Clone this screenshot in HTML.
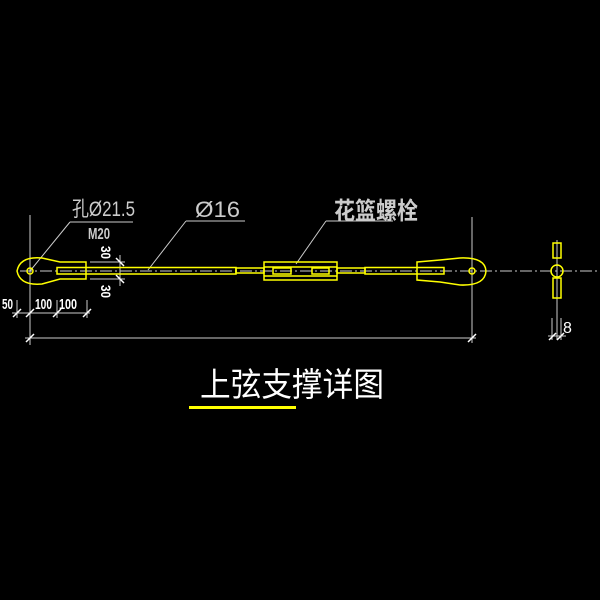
<!DOCTYPE html>
<html><head><style>body{margin:0;background:#000}svg{display:block}</style></head><body>
<svg width="600" height="600" viewBox="0 0 600 600" xmlns="http://www.w3.org/2000/svg">
<rect width="600" height="600" fill="#000"/>
<g stroke="#ccc" stroke-width="1" fill="none">
<line x1="20" y1="271" x2="600" y2="271" stroke-dasharray="12,3,2,3"/>
<line x1="30" y1="215" x2="30" y2="345"/>
<line x1="472" y1="217" x2="472" y2="343"/>
<line x1="25" y1="338" x2="476" y2="338"/>
<line x1="12" y1="313" x2="90" y2="313"/>
<line x1="17" y1="300" x2="17" y2="318"/><line x1="57" y1="300" x2="57" y2="318"/><line x1="87" y1="300" x2="87" y2="318"/>
<line x1="90" y1="262" x2="125" y2="262"/><line x1="90" y1="279" x2="125" y2="279"/>
<line x1="120" y1="255" x2="120" y2="286"/>
<line x1="30" y1="271" x2="70" y2="222"/><line x1="70" y1="222" x2="133" y2="222"/>
<line x1="148" y1="270" x2="186" y2="221"/><line x1="186" y1="221" x2="245" y2="221"/>
<line x1="296" y1="264" x2="326" y2="221"/><line x1="326" y1="221" x2="393" y2="221"/>
<line x1="557" y1="240" x2="557" y2="340"/>
<line x1="552" y1="318" x2="552" y2="340"/><line x1="561" y1="318" x2="561" y2="340"/>
<line x1="548" y1="336" x2="566" y2="336"/>
</g>
<g stroke="#fff" stroke-width="1.5">
<line x1="13" y1="317" x2="21" y2="309"/><line x1="26" y1="317" x2="34" y2="309"/><line x1="53" y1="317" x2="61" y2="309"/><line x1="83" y1="317" x2="91" y2="309"/>
<line x1="116" y1="258" x2="124" y2="266"/><line x1="116" y1="275" x2="124" y2="283"/>
<line x1="26" y1="342" x2="34" y2="334"/><line x1="468" y1="342" x2="476" y2="334"/>
<line x1="549" y1="340" x2="556" y2="333"/><line x1="557" y1="340" x2="564" y2="333"/>
</g>
<g stroke="#ff0" stroke-width="1.5" fill="none">
<path d="M86,262 L60,262 L42,258 Q20,256 17,271 Q20,286 42,284 L60,279 L86,279 Z"/>
<circle cx="30" cy="271" r="3"/>
<rect x="57" y="267.5" width="179" height="6.5"/>
<rect x="236" y="268" width="28" height="5"/>
<rect x="264" y="262" width="73" height="18"/>
<line x1="264" y1="267" x2="337" y2="267"/><line x1="264" y1="276" x2="337" y2="276"/>
<rect x="273" y="268" width="18" height="6"/><rect x="312" y="268" width="17" height="6"/>
<rect x="337" y="268" width="28" height="5"/>
<rect x="365" y="267.5" width="79" height="6.5"/>
<path d="M417,262 L440,260 L460,258 Q485,257 486,271 Q485,286 460,285 L440,282 L417,280 Z"/>
<circle cx="472" cy="271" r="3"/>
<rect x="553" y="243" width="8" height="15"/><rect x="553" y="278" width="8" height="20"/>
<circle cx="557" cy="271" r="6"/>
</g>
<line x1="189" y1="407.5" x2="296" y2="407.5" stroke="#ff0" stroke-width="3"/>
<g fill="#ccc" font-family="Liberation Sans, Noto Sans CJK SC, sans-serif">
<text x="72" y="216" font-size="21" textLength="63" lengthAdjust="spacingAndGlyphs">孔Ø21.5</text>
<text x="88" y="239" font-size="16" font-weight="bold" textLength="22" lengthAdjust="spacingAndGlyphs">M20</text>
<text x="195" y="217" font-size="22" textLength="45" lengthAdjust="spacingAndGlyphs">Ø16</text>
<text x="334" y="219" font-size="24" font-weight="bold" textLength="84" lengthAdjust="spacingAndGlyphs">花篮螺栓</text>
</g>
<g fill="#fff" font-family="Liberation Sans, sans-serif" font-size="15" font-weight="bold">
<text x="2" y="309" textLength="11" lengthAdjust="spacingAndGlyphs">50</text>
<text x="35" y="309" textLength="17" lengthAdjust="spacingAndGlyphs">100</text>
<text x="59" y="309" textLength="18" lengthAdjust="spacingAndGlyphs">100</text>
<text transform="translate(101,246) rotate(90)" font-size="14" textLength="13" lengthAdjust="spacingAndGlyphs">30</text>
<text transform="translate(101,285) rotate(90)" font-size="14" textLength="13" lengthAdjust="spacingAndGlyphs">30</text>
<text x="563" y="333" font-size="16" font-weight="normal">8</text>
</g>
<text x="200" y="396" fill="#fff" font-size="33" font-family="Noto Sans CJK SC, sans-serif" textLength="184" lengthAdjust="spacingAndGlyphs">上弦支撑详图</text>
</svg>
</body></html>
